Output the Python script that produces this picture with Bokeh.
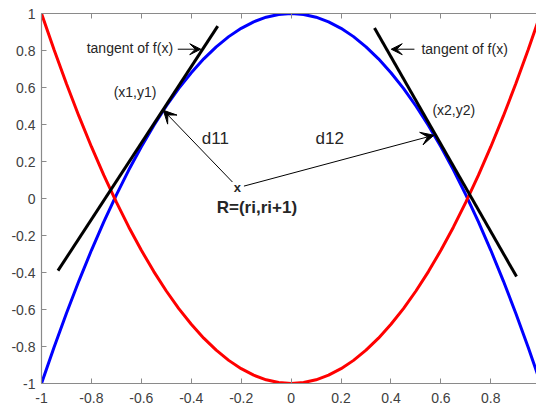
import numpy as np
from bokeh.plotting import figure
from bokeh.models import LinearAxis, FixedTicker, Arrow, VeeHead, ColumnDataSource, Range1d
from bokeh.core.properties import value
from bokeh.embed import file_html
from bokeh.resources import INLINE

# ---- data ----
x_vals = [-1.0, -0.95, -0.9, -0.85, -0.8, -0.75, -0.7, -0.65, -0.6, -0.55, -0.5,
          -0.45, -0.4, -0.35, -0.3, -0.25, -0.2, -0.15, -0.1, -0.05, 0.0,
          0.05, 0.1, 0.15, 0.2, 0.25, 0.3, 0.35, 0.4, 0.45, 0.5,
          0.55, 0.6, 0.65, 0.7, 0.75, 0.8, 0.85, 0.9, 0.95, 1.0]
blue_y = [-1.0, -0.805, -0.62, -0.445, -0.28, -0.125, 0.02, 0.155, 0.28, 0.395, 0.5,
          0.595, 0.68, 0.755, 0.82, 0.875, 0.92, 0.955, 0.98, 0.995, 1.0,
          0.995, 0.98, 0.955, 0.92, 0.875, 0.82, 0.755, 0.68, 0.595, 0.5,
          0.395, 0.28, 0.155, 0.02, -0.125, -0.28, -0.445, -0.62, -0.805, -1.0]
red_y = [1.0, 0.805, 0.62, 0.445, 0.28, 0.125, -0.02, -0.155, -0.28, -0.395, -0.5,
         -0.595, -0.68, -0.755, -0.82, -0.875, -0.92, -0.955, -0.98, -0.995, -1.0,
         -0.995, -0.98, -0.955, -0.92, -0.875, -0.82, -0.755, -0.68, -0.595, -0.5,
         -0.395, -0.28, -0.155, -0.02, 0.125, 0.28, 0.445, 0.62, 0.805, 1.0]

tan1_x = [-0.934, -0.294]
tan1_y = [-0.39, 0.932]
tan2_x = [0.334, 0.903]
tan2_y = [0.921, -0.422]

tick_vals = [-1, -0.8, -0.6, -0.4, -0.2, 0, 0.2, 0.4, 0.6, 0.8, 1]
tick_labels = ["-1", "-0.8", "-0.6", "-0.4", "-0.2", "0", "0.2", "0.4", "0.6", "0.8", "1"]

label_text = ["tangent of f(x)", "tangent of f(x)", "(x1,y1)", "(x2,y2)"]
label_x = [-0.819, 0.522, -0.711, 0.566]
label_y = [0.811, 0.806, 0.576, 0.477]

dlabel_text = ["d11", "d12"]
dlabel_x = [-0.358, 0.098]
dlabel_y = [0.326, 0.324]

r_text = ["R=(ri,ri+1)"]
r_x = [-0.298]
r_y = [-0.047]

mark_text = ["x"]
mark_x = [-0.215]
mark_y = [0.058]

# pointer arrows (tangent labels)
ptr_x0 = [-0.454, 0.494]
ptr_y0 = [0.807, 0.807]
ptr_x1 = [-0.362, 0.401]
ptr_y1 = [0.807, 0.807]

# distance arrows d11, d12
d_x0 = [-0.235, -0.189]
d_y0 = [0.089, 0.067]
d_x1 = [-0.512, 0.572]
d_y1 = [0.477, 0.342]

FONT = "Liberation Sans"

p = figure(width=536, height=408, x_range=Range1d(-1, 0.983), y_range=Range1d(-1, 1),
           output_backend="svg", toolbar_location=None,
           min_border_left=41, min_border_right=0, min_border_top=13, min_border_bottom=25,
           x_axis_location=None, y_axis_location=None)
p.outline_line_color = None
p.xgrid.visible = False
p.ygrid.visible = False
p.background_fill_color = "white"
p.border_fill_color = "white"

overrides = {v: s for v, s in zip(tick_vals, tick_labels)}
blank = {v: "" for v in tick_vals}

def style_axis(ax, show_labels=True, standoff=6):
    ax.ticker = FixedTicker(ticks=tick_vals)
    ax.major_label_overrides = overrides if show_labels else blank
    ax.axis_line_color = "#8a8a8a"
    ax.axis_line_width = 1.2
    ax.major_tick_line_color = "#8a8a8a"
    ax.major_tick_in = 5
    ax.major_tick_out = 0
    ax.minor_tick_in = 0
    ax.minor_tick_out = 0
    ax.major_label_standoff = standoff if show_labels else 0
    ax.major_label_text_font = FONT
    ax.major_label_text_font_size = "14px"
    ax.major_label_text_color = "#404040"

xb = LinearAxis()
style_axis(xb, True, 9)
p.add_layout(xb, "below")
yl = LinearAxis()
style_axis(yl, True, 6)
p.add_layout(yl, "left")
xt = LinearAxis()
style_axis(xt, False)
p.add_layout(xt, "above")

# curves
p.line(x_vals, blue_y, line_color="#0000ff", line_width=3)
p.line(x_vals, red_y, line_color="#ff0000", line_width=3)
p.line(tan1_x, tan1_y, line_color="black", line_width=3)
p.line(tan2_x, tan2_y, line_color="black", line_width=3)

# arrows
ptr_src = ColumnDataSource(dict(x0=ptr_x0, y0=ptr_y0, x1=ptr_x1, y1=ptr_y1))
p.add_layout(Arrow(end=VeeHead(size=11, fill_color="black", line_color="black", line_width=1),
                   x_start="x0", y_start="y0", x_end="x1", y_end="y1",
                   line_color="black", line_width=1, source=ptr_src))
d_src = ColumnDataSource(dict(x0=d_x0, y0=d_y0, x1=d_x1, y1=d_y1))
p.add_layout(Arrow(end=VeeHead(size=13, fill_color="black", line_color="black", line_width=1),
                   x_start="x0", y_start="y0", x_end="x1", y_end="y1",
                   line_color="black", line_width=1, source=d_src))

# texts
p.text(label_x, label_y, text=label_text, text_font=value(FONT), text_font_size="14px",
       text_color="#262626", text_align="left", text_baseline="middle")
p.text(dlabel_x, dlabel_y, text=dlabel_text, text_font=value(FONT), text_font_size="17px",
       text_color="#262626", text_align="left", text_baseline="middle")
p.text(r_x, r_y, text=r_text, text_font=value(FONT), text_font_size="17px",
       text_font_style="bold", text_color="#262626", text_align="left", text_baseline="middle")
p.text(mark_x, mark_y, text=mark_text, text_font=value(FONT), text_font_size="13px",
       text_font_style="bold", text_color="#262626", text_align="center", text_baseline="middle")

open("out.html", "w").write(file_html(p, INLINE))
